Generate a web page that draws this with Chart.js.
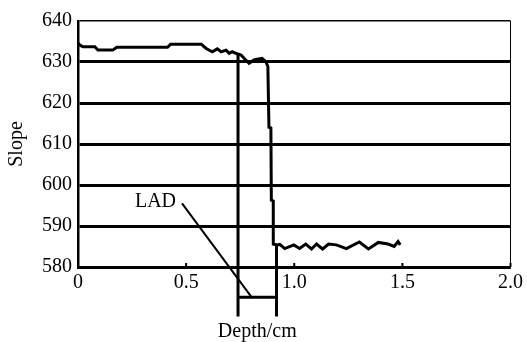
<!DOCTYPE html>
<html>
<head>
<meta charset="utf-8">
<script src="https://cdn.jsdelivr.net/npm/chart.js@4/dist/chart.umd.min.js"></script>
<style>
  html, body { margin: 0; padding: 0; background: #fff; }
  canvas { display: block; }
</style>
</head>
<body>
<canvas id="c" width="527" height="342"></canvas>
<script>
// ---- Data ----
const depth = [0.000, 0.009, 0.023, 0.078, 0.092, 0.161, 0.179, 0.414, 0.428, 0.570,
  0.593, 0.621, 0.644, 0.662, 0.685, 0.699, 0.713, 0.736, 0.754, 0.768,
  0.791, 0.814, 0.828, 0.851, 0.869, 0.878, 0.883, 0.892, 0.894, 0.903,
  0.903, 0.920, 0.933, 0.956, 0.998, 1.025, 1.053, 1.080, 1.103, 1.131,
  1.159, 1.195, 1.241, 1.301, 1.343, 1.389, 1.434, 1.462, 1.480, 1.490];
const slope = [634.6, 634.1, 633.7, 633.7, 632.9, 632.9, 633.6, 633.6, 634.3, 634.3,
  633.3, 632.5, 633.2, 632.5, 632.9, 632.1, 632.5, 632.0, 631.7, 630.9,
  629.7, 630.5, 630.7, 630.9, 630.1, 628.9, 614.1, 613.9, 596.3, 596.1,
  585.6, 585.4, 585.5, 584.5, 585.4, 584.5, 585.6, 584.4, 585.6, 584.4,
  585.6, 585.4, 584.5, 586.1, 584.4, 586.0, 585.6, 585.0, 586.2, 585.4];

// bracket marking the LAD region (left edge, right edge)
const bracketX = [0.740, 0.918];
const bracketTop = [631.8, 585.4];
const bracketBottom = 567.9;
const bracketBar = 572.6;

// LAD leader line
const ladX = [0.481, 0.806];
const ladY = [595.5, 572.4];
const ladLabel = 'LAD';

// axes
const yTicks = [580, 590, 600, 610, 620, 630, 640];
const xTickLabels = ['0', '0.5', '1.0', '1.5', '2.0'];
const xTickValues = [0, 0.5, 1.0, 1.5, 2.0];
const xTitle = 'Depth/cm';
const yTitle = 'Slope';

// ---- build datasets ----
const curve = depth.map((d, i) => ({ x: d, y: slope[i] }));
const bracket = [
  { x: bracketX[0], y: bracketTop[0] }, { x: bracketX[0], y: bracketBottom }, { x: bracketX[0], y: null },
  { x: bracketX[0], y: bracketBar }, { x: bracketX[1], y: bracketBar }, { x: bracketX[1], y: null },
  { x: bracketX[1], y: bracketTop[1] }, { x: bracketX[1], y: bracketBottom }
];
const lad = ladX.map((v, i) => ({ x: v, y: ladY[i] }));

const FONT = '"Liberation Serif", "Times New Roman", serif';

const overlay = {
  id: 'overlay',
  afterDatasetsDraw(chart) {
    const { ctx, scales: { x, y }, chartArea } = chart;
    ctx.save();
    ctx.strokeStyle = '#000';
    ctx.lineWidth = 2;
    xTickValues.slice(1).forEach(v => {
      const px = x.getPixelForValue(v);
      ctx.beginPath();
      ctx.moveTo(px, chartArea.bottom);
      ctx.lineTo(px, chartArea.bottom - 4);
      ctx.stroke();
    });
    ctx.fillStyle = '#000';
    ctx.font = '20px ' + FONT;
    ctx.textAlign = 'right';
    ctx.textBaseline = 'middle';
    ctx.fillText(ladLabel, x.getPixelForValue(ladX[0]) - 6, y.getPixelForValue(ladY[0]) - 2);
    ctx.textAlign = 'center';
    ctx.fillText(xTitle, x.getPixelForValue((bracketX[0] + bracketX[1]) / 2), chartArea.bottom + 65);
    ctx.restore();
  }
};

new Chart(document.getElementById('c'), {
  type: 'scatter',
  data: {
    datasets: [
      { data: curve, showLine: true, borderColor: '#000', borderWidth: 3, pointRadius: 0, tension: 0, clip: false },
      { data: bracket, showLine: true, spanGaps: false, borderColor: '#000', borderWidth: 3, pointRadius: 0, clip: false },
      { data: lad, showLine: true, borderColor: '#000', borderWidth: 2, pointRadius: [0, 2], pointBackgroundColor: '#000', pointBorderWidth: 0, clip: false }
    ]
  },
  options: {
    responsive: false,
    animation: false,
    devicePixelRatio: 1,
    layout: { padding: { left: 0, right: 14, top: 21, bottom: 0 } },
    plugins: { legend: { display: false }, tooltip: { enabled: false } },
    scales: {
      x: {
        type: 'linear', min: 0, max: 2,
        afterBuildTicks: s => { s.ticks = xTickValues.map(v => ({ value: v })); },
        afterFit: s => { s.height = 75; },
        ticks: {
          font: { family: FONT, size: 20 }, color: '#000', padding: 4, maxRotation: 0,
          callback: (v) => xTickLabels[xTickValues.indexOf(v)]
        },
        grid: {
          drawTicks: false,
          color: c => (c.tick && c.tick.value === 2 ? '#000' : 'rgba(0,0,0,0)'),
          lineWidth: c => (c.tick && c.tick.value === 2 ? 1 : 0)
        },
        border: { color: '#000', width: 2.5 }
      },
      y: {
        type: 'linear', min: 580, max: 640,
        afterBuildTicks: s => { s.ticks = yTicks.map(v => ({ value: v })); },
        afterFit: s => { s.width = 78; },
        ticks: { font: { family: FONT, size: 20 }, color: '#000', padding: 6, callback: v => String(v) },
        grid: {
          drawTicks: false,
          color: '#000',
          lineWidth: c => (c.tick && c.tick.value === 640 ? 1.5 : 3)
        },
        border: { color: '#000', width: 2.5 },
        title: { display: true, text: yTitle, color: '#000', font: { family: FONT, size: 20 }, padding: { top: 5, bottom: 0 } }
      }
    }
  },
  plugins: [overlay]
});
</script>
</body>
</html>
